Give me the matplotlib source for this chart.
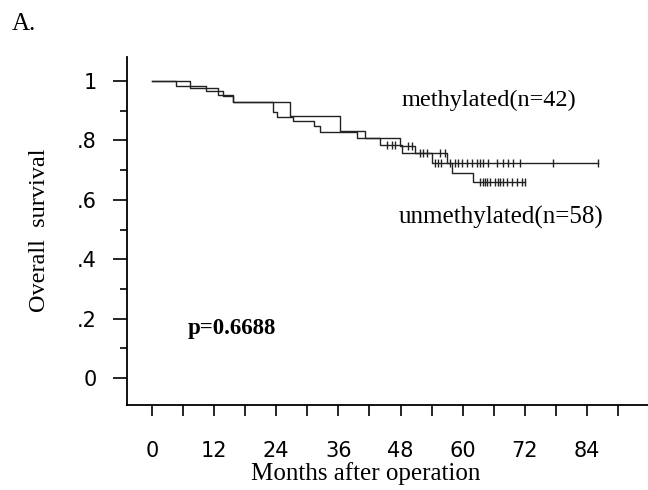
import numpy as np
import matplotlib
matplotlib.use("Agg")
from matplotlib import pyplot as plt

# Kaplan-Meier steps (months, survival)
m_times = [0, 7.3, 12.8, 15.7, 26.6, 36.3, 41.2, 47.9, 50.8, 57.0, 86.1]
m_surv = [1.0, 0.976, 0.952, 0.929, 0.881, 0.833, 0.807, 0.782, 0.757, 0.723, 0.723]
u_times = [0, 4.7, 10.5, 13.8, 15.7, 23.4, 24.1, 27.3, 31.2, 32.4, 39.5, 44.0,
           48.2, 54.0, 58.0, 62.0, 72.0]
u_surv = [1.0, 0.983, 0.966, 0.948, 0.931, 0.897, 0.880, 0.866, 0.850, 0.829,
          0.807, 0.785, 0.757, 0.723, 0.690, 0.661, 0.661]

# censored observations (months)
m_cens = [49.4, 50.2, 52.3, 53.1, 55.6, 56.6, 57.5, 58.5, 59.1, 59.8, 60.8, 61.8,
          62.7, 63.3, 63.9, 64.9, 66.6, 67.8, 68.7, 69.7, 71.0, 77.4, 86.1]
u_cens = [45.3, 46.3, 46.9, 51.7, 54.6, 55.2, 55.8, 63.3, 63.9, 64.3, 64.7, 65.3,
          66.2, 66.8, 67.2, 67.8, 68.5, 69.5, 70.5, 71.4, 72.0]

x_ticks = [0, 12, 24, 36, 48, 60, 72, 84]
y_ticks = [0, 0.2, 0.4, 0.6, 0.8, 1.0]
y_labels = ['0', '.2', '.4', '.6', '.8', '1']

serif = 'Liberation Serif'
sans = 'DejaVu Sans'


def surv_at(times, surv, t):
    i = np.searchsorted(times, t, side='right') - 1
    return surv[i]


fig = plt.figure(figsize=(6.48, 4.9), dpi=100)
ax = fig.add_axes([127/648, 1-405/490, (648-127)/648, (405-57)/490])

col = '#222222'
ax.step(m_times, m_surv, where='post', color=col, lw=1.0)
ax.step(u_times, u_surv, where='post', color=col, lw=1.0)
ax.plot(m_cens, [surv_at(m_times, m_surv, t) for t in m_cens], ls='none',
        marker='|', ms=6, mew=1.0, color=col)
ax.plot(u_cens, [surv_at(u_times, u_surv, t) for t in u_cens], ls='none',
        marker='|', ms=6, mew=1.0, color=col)

ax.set_xlim(-4.8, 95.75)
ax.set_ylim(-0.0909, 1.081)
for s in ['top', 'right']:
    ax.spines[s].set_visible(False)
for s in ['left', 'bottom']:
    ax.spines[s].set_linewidth(1.3)
    ax.spines[s].set_color('black')

ax.set_xticks(x_ticks)
ax.set_xticks(np.arange(6, 96, 12), minor=True)
ax.set_yticks(y_ticks)
ax.set_yticklabels(y_labels)
ax.set_yticks(np.arange(0.1, 1.0, 0.2), minor=True)
ax.tick_params(axis='x', which='both', length=8, width=1.2, direction='out')
ax.tick_params(axis='x', which='major', pad=18, labelsize=15)
ax.tick_params(axis='y', which='major', length=10, width=1.2, pad=12, labelsize=15)
ax.tick_params(axis='y', which='minor', length=5, width=1.2)
for lab in ax.get_xticklabels() + ax.get_yticklabels():
    lab.set_family(sans)

ax.set_xlabel('Months after operation', family=serif, fontsize=18, va='center')
ax.xaxis.set_label_coords(0.459, -0.198)
fig.text(40/648, 1-230/490, 'Overall  survival', family=serif, fontsize=17.5,
         rotation=90, ha='center', va='center')
fig.text(12/648, 1-24/490, 'A.', family=serif, fontsize=18, va='center')

ax.text(65, 0.936, 'methylated(n=42)', family=serif, fontsize=17.5,
        ha='center', va='center')
ax.text(67.4, 0.542, 'unmethylated(n=58)', family=serif, fontsize=18,
        ha='center', va='center')
ax.text(7.0, 0.168, 'p=0.6688', family=serif, fontsize=16.5, fontweight='bold',
        ha='left', va='center')

plt.savefig('out.png', dpi=100)
